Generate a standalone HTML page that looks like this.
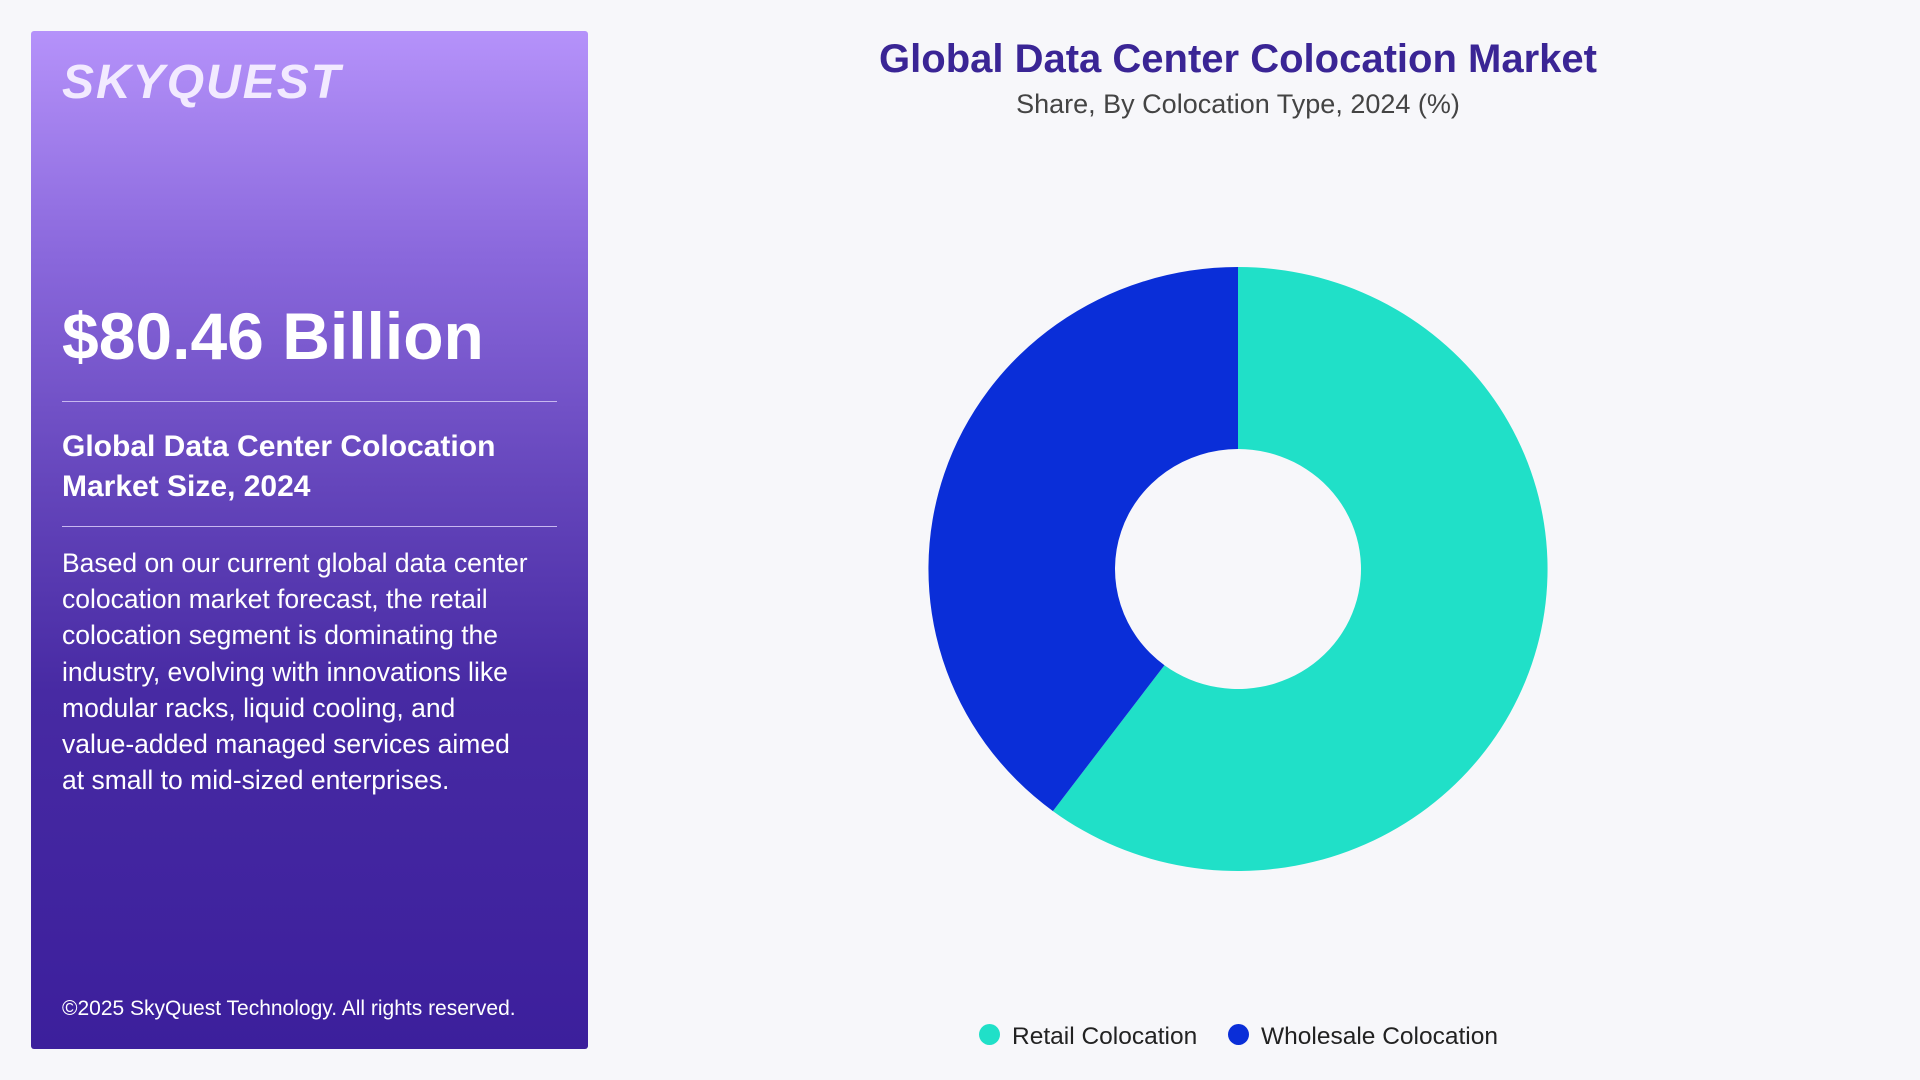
<!DOCTYPE html>
<html><head><meta charset="utf-8"><style>
body{margin:0;width:1920px;height:1080px;background:#f7f7fa;font-family:"Liberation Sans",sans-serif;position:relative;overflow:hidden}
#panel{position:absolute;left:31px;top:31px;width:557px;height:1018px;border-radius:3px;background:linear-gradient(180deg,#b592fa 0%,#8a68dc 22%,#6445bb 45%,#472aa3 65%,#3c1f9c 100%)}
.abs{position:absolute}
</style></head><body>
<div id="panel">
<div class="abs" style="left:31px;top:24px;font-size:48px;font-weight:bold;font-style:italic;color:#f2eaff;letter-spacing:2px">SKYQUEST</div>
<div class="abs" style="left:31px;top:267px;font-size:66px;font-weight:bold;color:#fff">$80.46 Billion</div>
<div class="abs" style="left:31px;top:370px;width:495px;height:1px;background:#c8b8f0"></div>
<div class="abs" style="left:31px;top:396px;font-size:30px;font-weight:bold;color:#fff;line-height:40px">Global Data Center Colocation<br>Market Size, 2024</div>
<div class="abs" style="left:31px;top:495px;width:495px;height:1px;background:#c8b8f0"></div>
<div class="abs" style="left:31px;top:514px;width:540px;font-size:26.5px;color:#fff;line-height:36.2px;white-space:nowrap">Based on our current global data center<br>colocation market forecast, the retail<br>colocation segment is dominating the<br>industry, evolving with innovations like<br>modular racks, liquid cooling, and<br>value-added managed services aimed<br>at small to mid-sized enterprises.</div>
<div class="abs" style="left:31px;top:966px;font-size:21px;color:#fff">©2025 SkyQuest Technology. All rights reserved.</div>
</div>
<div class="abs" style="left:738px;width:1000px;text-align:center;top:37px;font-size:40px;font-weight:bold;color:#3a2595">Global Data Center Colocation Market</div>
<div class="abs" style="left:738px;width:1000px;text-align:center;top:89px;font-size:27px;color:#444">Share, By Colocation Type, 2024 (%)</div>
<svg class="abs" style="left:0;top:0" width="1920" height="1080" id="chart"><g id="donut" transform="translate(1238,569) scale(1.025,1) translate(-1238,-569)"></g></svg>
<div class="abs" style="left:0;top:1021px;width:100%;height:30px">
<div class="abs" style="left:979px;top:2px;font-size:24.5px;color:#222;white-space:nowrap"><span style="display:inline-block;width:21px;height:21px;border-radius:50%;background:#20e0c8;vertical-align:-1px;margin-right:12px"></span>Retail Colocation</div>
<div class="abs" style="left:1228px;top:2px;font-size:24.5px;color:#222;white-space:nowrap"><span style="display:inline-block;width:21px;height:21px;border-radius:50%;background:#0a2ed8;vertical-align:-1px;margin-right:12px"></span>Wholesale Colocation</div>
</div>
<script>
const categories=["Retail Colocation","Wholesale Colocation"];
const shares=[60.2,39.8];
const colors=["#20e0c8","#0a2ed8"];
const g=document.getElementById('donut');
const cx=1238,cy=569,R=302,r=120;
const total=shares.reduce((a,b)=>a+b,0);
let a0=0;
function pt(rad,ang){return [cx+rad*Math.sin(ang),cy-rad*Math.cos(ang)];}
shares.forEach((v,i)=>{
 const a1=a0+v/total*2*Math.PI;
 const large=(a1-a0)>Math.PI?1:0;
 const [x0,y0]=pt(R,a0),[x1,y1]=pt(R,a1),[x2,y2]=pt(r,a1),[x3,y3]=pt(r,a0);
 const p=document.createElementNS('http://www.w3.org/2000/svg','path');
 p.setAttribute('d',`M${x0},${y0}A${R},${R} 0 ${large} 1 ${x1},${y1}L${x2},${y2}A${r},${r} 0 ${large} 0 ${x3},${y3}Z`);
 p.setAttribute('fill',colors[i]);
 
 
 g.appendChild(p);
 a0=a1;
});
</script>
</body></html>
